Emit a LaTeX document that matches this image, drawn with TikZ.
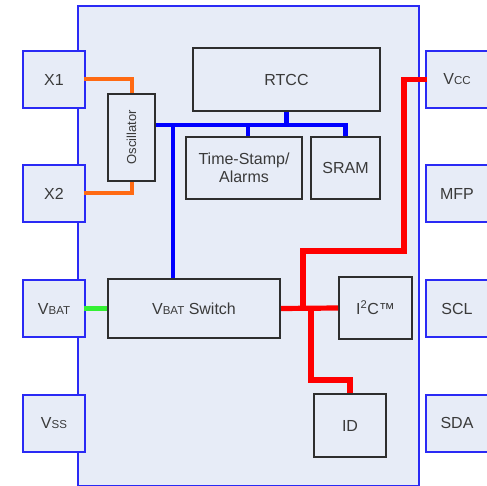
\documentclass[tikz,border=0pt]{standalone}
\usepackage{fontspec}
\setmainfont{Liberation Sans}
\usetikzlibrary{calc}
\definecolor{chipfill}{HTML}{E7ECF7}
\definecolor{pinblue}{HTML}{2A2AF5}
\definecolor{boxgray}{HTML}{2E2E2E}
\definecolor{txtgray}{HTML}{3A3A3A}
\definecolor{oscorange}{HTML}{FF6A13}
\definecolor{batgreen}{HTML}{33F033}
\newcommand{\sm}[1]{{\fontsize{11.5}{12}\selectfont #1}}
\begin{document}
\begin{tikzpicture}[
  x=1pt, y=-1pt,
  chip/.style={draw=pinblue, fill=chipfill, line width=2pt, minimum width=341pt, minimum height=479pt, inner sep=0pt},
  pin/.style={draw=pinblue, fill=chipfill, line width=2pt, minimum width=62pt, minimum height=57pt, inner sep=0pt, text=txtgray, font=\fontsize{16}{18}\selectfont},
  blk/.style={draw=boxgray, fill=chipfill, line width=2pt, inner sep=0pt, align=center, text=txtgray, font=\fontsize{16}{18}\selectfont},
  bus/.style={draw=blue, line width=4.6pt},
  clk/.style={draw=oscorange, line width=4pt},
  bat/.style={draw=batgreen, line width=4.3pt},
  pwr/.style={draw=red, line width=5.2pt}
]
\useasboundingbox (0,0) rectangle (487,486);
\node[chip] (chip) at (248.5,246) {};
\node[pin] (X1) at (54,79.5) {X1};
\node[pin] (X2) at (54,193.5) {X2};
\node[pin] (VBAT) at (54,308.5) {V\sm{BAT}};
\node[pin] (VSS) at (54,423) {V\sm{SS}};
\node[pin] (VCC) at (457,79.5) {V\sm{CC}};
\node[pin] (MFP) at (457,193.5) {MFP};
\node[pin] (SCL) at (457,308.5) {SCL};
\node[pin] (SDA) at (457,423) {SDA};
\node[blk, minimum width=187pt, minimum height=63pt] (rtcc) at (286.5,79.5) {RTCC};
\node[blk, minimum width=47pt, minimum height=87pt] (osc) at (131.5,137.5) {};
\node[rotate=90, text=txtgray, font=\fontsize{13}{14}\selectfont] (osclbl) at (osc) {Oscillator};
\node[blk, minimum width=116pt, minimum height=62pt] (ts) at (244,168) {Time-Stamp/\\Alarms};
\node[blk, minimum width=69pt, minimum height=62pt] (sram) at (345.5,168) {SRAM};
\node[blk, minimum width=172pt, minimum height=59pt] (sw) at (194,308.5) {V\sm{BAT} Switch};
\node[blk, minimum width=73pt, minimum height=62pt] (i2c) at (375.5,308) {I\textsuperscript{2}C™};
\node[blk, minimum width=72pt, minimum height=63pt] (id) at (350,425.5) {ID};
\coordinate (bus) at (173,125);
\coordinate (j1) at (303,308.5);
\coordinate (j2) at (311,308.5);
\draw[clk] ([xshift=-2pt]X1.east) -| (osc.north);
\draw[clk] ([xshift=-2pt]X2.east) -| (osc.south);
\draw[bus] (osc.east |- bus) -- (sram.north |- bus) -- (sram.north);
\draw[bus] (rtcc.south) -- (rtcc.south |- bus);
\draw[bus] ([xshift=4pt]ts.north |- bus) -- ([xshift=4pt]ts.north);
\draw[bus] (bus) -- (bus |- sw.north);
\draw[bat] ([xshift=-2pt]VBAT.east) -- (sw.west);
\draw[pwr] ([xshift=2pt]VCC.west) -| (404,251) -| (j1);
\draw[pwr] (sw.east) -- (i2c.west);
\draw[pwr] (j2) -- (311,380) -| (id.north);
\end{tikzpicture}
\end{document}
